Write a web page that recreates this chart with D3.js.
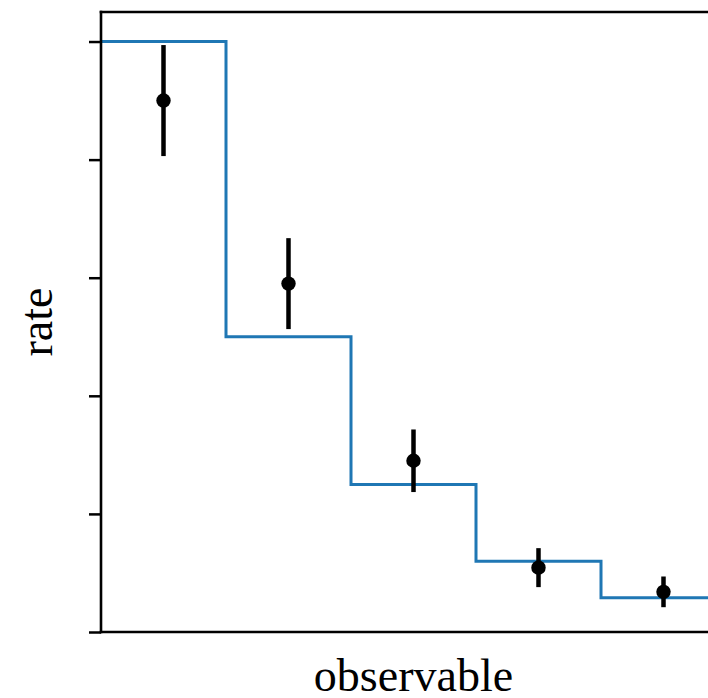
<!DOCTYPE html>
<html>
<head>
<meta charset="utf-8">
<script src="https://cdn.jsdelivr.net/npm/d3@7"></script>
<style>
  html, body { margin: 0; padding: 0; background: #fff; }
  svg { display: block; }
  .axis-label { font-family: "Liberation Serif", "DejaVu Serif", serif; font-size: 46px; fill: #000; }
</style>
</head>
<body>
<svg id="chart" width="708" height="698"></svg>
<script>
// bin edges of the observable and the predicted rate in each bin
const binEdges = [0, 1, 2, 3, 4, 5];
const modelRate = [5.0, 2.5, 1.25, 0.6, 0.29];

// measured points at the bin centres, with symmetric errors
const dataX = [0.5, 1.5, 2.5, 3.5, 4.5];
const dataRate = [4.5, 2.95, 1.45, 0.545, 0.34];
const dataErr = [0.47, 0.385, 0.265, 0.165, 0.13];

const yTicks = [0, 1, 2, 3, 4, 5];

const svg = d3.select("#chart");
const margin = { left: 101, top: 12, right: 726, bottom: 632 };

const x = d3.scaleLinear().domain([0, 5]).range([margin.left, margin.right]);
const y = d3.scaleLinear().domain([0, 5.25]).range([margin.bottom, margin.top]);

// step line (histogram outline)
const stepPts = [];
modelRate.forEach((v, i) => {
  stepPts.push([binEdges[i], v]);
  stepPts.push([binEdges[i + 1], v]);
});
const stepLine = d3.line().x((d) => x(d[0])).y((d) => y(d[1]));

svg.append("path")
  .datum(stepPts)
  .attr("d", stepLine)
  .attr("fill", "none")
  .attr("stroke", "#1f77b4")
  .attr("stroke-width", 3);

// error bars
const pts = dataX.map((d, i) => ({ x: d, y: dataRate[i], e: dataErr[i] }));
svg.append("g")
  .selectAll("line")
  .data(pts)
  .join("line")
  .attr("x1", (d) => x(d.x))
  .attr("x2", (d) => x(d.x))
  .attr("y1", (d) => y(d.y - d.e))
  .attr("y2", (d) => y(d.y + d.e))
  .attr("stroke", "#000")
  .attr("stroke-width", 4.5);

svg.append("g")
  .selectAll("circle")
  .data(pts)
  .join("circle")
  .attr("cx", (d) => x(d.x))
  .attr("cy", (d) => y(d.y))
  .attr("r", 7.2)
  .attr("fill", "#000");

// y axis: ticks only, no labels
const yAxis = d3.axisLeft(y).tickValues(yTicks).tickSize(12).tickFormat("");
const gy = svg.append("g").attr("transform", `translate(${margin.left},0)`).call(yAxis);
gy.select(".domain").remove();
gy.selectAll(".tick line").attr("stroke", "#000").attr("stroke-width", 2.5);

// spines
const spine = (x1, y1, x2, y2) =>
  svg.append("line")
    .attr("x1", x1).attr("y1", y1).attr("x2", x2).attr("y2", y2)
    .attr("stroke", "#000").attr("stroke-width", 2.6)
    .attr("stroke-linecap", "square");
spine(margin.left, margin.top, margin.left, margin.bottom);
spine(margin.left, margin.bottom, margin.right, margin.bottom);
spine(margin.left, margin.top, margin.right, margin.top);
spine(margin.right, margin.top, margin.right, margin.bottom);

// axis labels
svg.append("text")
  .attr("class", "axis-label")
  .attr("x", (margin.left + margin.right) / 2)
  .attr("y", 691)
  .attr("text-anchor", "middle")
  .text("observable");

svg.append("text")
  .attr("class", "axis-label")
  .attr("transform", `translate(52,${(margin.top + margin.bottom) / 2}) rotate(-90)`)
  .attr("text-anchor", "middle")
  .text("rate");
</script>
</body>
</html>
